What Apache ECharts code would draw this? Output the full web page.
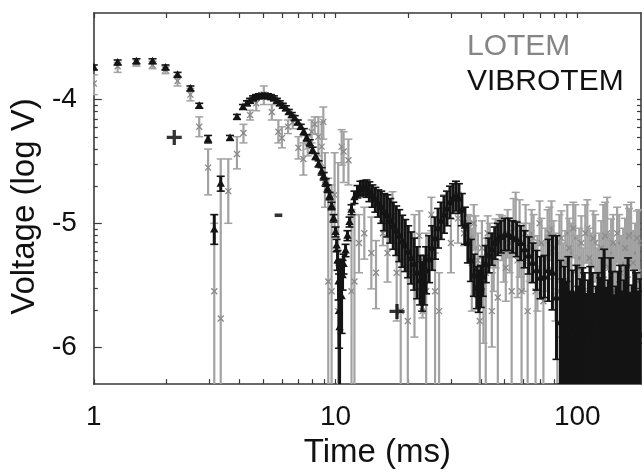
<!DOCTYPE html>
<html>
<head>
<meta charset="utf-8">
<script src="https://cdn.jsdelivr.net/npm/echarts@6/dist/echarts.min.js"></script>
<style>
html,body{margin:0;padding:0;background:#fff;}
#chart{width:644px;height:474px;}
</style>
</head>
<body>
<div id="chart"></div>
<script>
// ---- VIBROTEM (black): time (ms), log10 voltage, error half-width (log units)
const vibT = [1.0,1.255,1.50,1.75,1.98,2.22,2.51,2.73,2.97,3.15,3.35,3.66,3.91,4.14,
4.30,4.43,4.555,4.69,4.82,4.96,5.105,5.25,5.40,5.56,5.72,5.88,6.05,6.23,6.41,6.59,6.78,6.98,7.18,7.385,7.60,7.82,8.04,8.27,8.51,8.76,8.93,9.10,9.27,9.45,9.63,9.81,
10.0,10.1,10.19,10.29,10.34,10.39,10.59,10.69,10.79,11.0,11.2,11.42,11.64,11.97,12.32,12.67,13.04,13.42,13.80,14.2,14.61,15.03,15.46,15.91,16.37,16.84,17.33,17.82,18.34,18.87,19.42,19.97,
20.55,21.14,21.75,22.38,22.8,23.24,23.69,24.37,25.07,25.79,26.54,27.31,28.09,28.90,29.74,30.59,31.47,32.38,33.31,34.28,35.27,36.28,37.33,38.40,39.1,39.9,
40.65,41.82,43.02,44.27,45.54,46.86,48.21,50.07,52.0,54.0,56.1,58.3,60.5,62.9,65.3,67.8,70.4,73.1,76.0,78.9,82.0,
85.1,86.7,88.4,90.1,91.8,93.6,95.4,97.2,99.1,101.0,102.9,104.9,106.9,108.9,111.0,113.1,115.3,117.5,119.7,122.0,124.4,126.7,129.1,131.6,134.1,136.7,139.3,142.0,144.7,147.5,150.3,153.2,156.1,159.1,162.2,165.3,168.4,171.6,174.9,178.3,181.7];
const vibV = [-3.74,-3.70,-3.69,-3.69,-3.74,-3.80,-3.91,-4.05,-4.32,-5.05,-4.68,-4.31,-4.14,-4.06,
-4.03,-4.01,-3.99,-3.98,-3.973,-3.97,-3.97,-3.973,-3.98,-3.99,-4.01,-4.03,-4.05,-4.07,-4.10,-4.125,-4.15,-4.185,-4.22,-4.26,-4.31,-4.35,-4.41,-4.46,-4.52,-4.58,-4.62,-4.67,-4.72,-4.78,-4.86,-4.96,
-5.07,-5.18,-5.30,-5.47,-5.71,-5.84,-5.59,-5.42,-5.33,-5.22,-5.10,-4.99,-4.89,-4.79,-4.745,-4.72,-4.715,-4.72,-4.745,-4.78,-4.81,-4.84,-4.87,-4.91,-4.94,-4.98,-5.02,-5.06,-5.10,-5.145,-5.18,-5.23,
-5.28,-5.33,-5.40,-5.46,-5.51,-5.46,-5.38,-5.29,-5.20,-5.12,-5.04,-4.98,-4.93,-4.88,-4.83,-4.80,-4.78,-4.80,-4.89,-5.02,-5.16,-5.30,-5.42,-5.52,-5.55,-5.51,
-5.43,-5.33,-5.26,-5.21,-5.16,-5.13,-5.11,-5.09,-5.09,-5.11,-5.13,-5.16,-5.21,-5.26,-5.32,-5.38,-5.44,-5.43,-5.38,-5.40,-5.60,
-5.80,-5.90,-5.85,-5.92,-5.82,-5.95,-5.88,-5.96,-5.84,-5.93,-5.90,-5.86,-5.88,-5.97,-5.91,-5.85,-5.87,-5.97,-5.93,-5.88,-5.90,-5.80,-5.76,-5.94,-5.91,-5.80,-5.87,-5.98,-5.93,-5.87,-5.84,-5.95,-5.91,-5.84,-5.80,-5.96,-5.92,-5.86,-5.88,-5.95,-5.90];
const vibE = [0.02,0.02,0.02,0.02,0.02,0.02,0.02,0.02,0.03,0.12,0.06,0.02,0.02,0.02,
0.02,0.02,0.02,0.02,0.02,0.02,0.02,0.02,0.02,0.02,0.02,0.02,0.02,0.02,0.02,0.02,0.02,0.02,0.02,0.025,0.025,0.025,0.025,0.025,0.025,0.03,0.03,0.03,0.03,0.03,0.03,0.03,
0.04,0.05,0.08,0.15,0.3,0.5,0.3,0.12,0.08,0.05,0.04,0.04,0.04,0.05,0.05,0.06,0.06,0.07,0.08,0.09,0.10,0.11,0.13,0.15,0.17,0.18,0.19,0.2,0.21,0.21,0.21,0.21,
0.21,0.21,0.21,0.2,0.2,0.2,0.19,0.19,0.18,0.17,0.16,0.15,0.15,0.14,0.13,0.12,0.12,0.12,0.13,0.15,0.16,0.17,0.17,0.17,0.17,0.17,
0.16,0.15,0.14,0.13,0.13,0.13,0.13,0.13,0.13,0.13,0.14,0.14,0.15,0.15,0.16,0.16,0.17,0.17,0.25,0.3,0.5,
0.5,0.45,0.5,0.45,0.55,0.4,0.5,0.4,0.5,0.42,0.45,0.5,0.48,0.4,0.45,0.5,0.47,0.4,0.42,0.48,0.46,0.52,0.55,0.42,0.45,0.52,0.48,0.4,0.42,0.48,0.5,0.4,0.45,0.5,0.52,0.4,0.42,0.48,0.48,0.4,0.45];

// ---- LOTEM (gray): time (ms), log10 voltage, top and bottom of error bar (log units; -7 = below the axis)
const lotT = [1.0,1.255,1.50,1.75,1.98,2.22,2.51,2.73,2.97,3.15,3.35,3.60,3.91,4.16,4.43,4.7,5.05,5.45,5.8,6.0,6.36,6.65,7.02,7.36,7.67,7.96,8.2,8.49,8.76,8.9,9.04,9.33,9.63,9.91,10.25,10.6,10.8,11.3,11.64,11.97,12.5,13.15,14.06,14.7,15.7,16.4,17.2,17.9,18.6,19.9,21.2,22.2,22.9,23.7,24.9,25.8,26.8,28.1,30.0,32.1,34.0,35.3,36.6,37.9,39.5,40.9,42.6,44.3,45.9,47.7,49.6,51.5,53.5,55.6,57.7,60.0,62.3,64.7,67.2,69.8,72.4,75.3,78.2,81.2,84.3,87.5,90.9,94.5,98.1,101.9,105.9,110,114.2,118.6,123.2,128,132.9,138,143.4,149,154.7,160.7,166.9,173.3,180.0,
36.0,37.3,38.8,40.3,41.8,43.4,45.1,46.9,48.8,50.6,52.5,54.5,56.6,58.8,61.1,63.5,65.9,68.4,71.1,73.8,76.7,79.7,82.7,85.9,89.2,92.6,96.2,100.0,103.9,107.9,112.1,116.4,120.9,125.6,130.4,135.4,140.6,146.1,151.7,157.6,163.7,170.0,176.6];
const lotV = [-3.87,-3.73,-3.70,-3.72,-3.76,-3.85,-3.96,-4.22,-4.55,-5.55,-5.77,-4.74,-4.44,-4.27,-4.125,-4.03,-3.96,-4.10,-4.26,-4.31,-4.22,-4.18,-4.39,-4.48,-4.38,-4.26,-4.20,-4.30,-4.38,-4.18,-4.65,-5.47,-5.55,-4.77,-5.71,-4.38,-4.42,-4.49,-5.55,-5.47,-5.16,-5.08,-5.24,-5.40,-5.08,-5.24,-4.94,-5.40,-5.71,-5.79,-5.40,-5.10,-5.71,-5.55,-4.93,-5.55,-5.71,-4.89,-5.16,-4.96,-5.08,-5.04,-5.32,-5.20,-5.79,-5.55,-5.08,-5.71,-5.16,-5.04,-5.24,-5.08,-5.55,-5.00,-5.12,-5.24,-5.71,-5.08,-5.55,-5.00,-5.63,-5.12,-5.04,-5.40,-5.16,-5.55,-5.08,-5.24,-5.12,-5.28,-5.55,-5.04,-5.32,-5.16,-5.40,-5.12,-5.08,-5.24,-5.55,-5.16,-5.32,-5.12,-5.08,-5.24,-5.16,
-5.12,-5.00,-5.30,-5.20,-5.40,-5.16,-5.28,-5.60,-5.10,-5.36,-5.16,-5.04,-5.30,-5.55,-5.08,-5.20,-5.12,-5.36,-5.16,-5.28,-5.08,-5.20,-5.55,-5.12,-5.32,-5.20,-5.04,-5.36,-5.16,-5.08,-5.28,-5.12,-5.55,-5.20,-5.10,-5.36,-5.16,-5.08,-5.40,-5.20,-5.10,-5.32,-5.12];
const lotHi = [-3.80,-3.70,-3.67,-3.69,-3.73,-3.81,-3.91,-4.14,-4.40,-5.00,-4.48,-4.48,-4.30,-4.20,-4.086,-3.97,-3.89,-4.04,-4.165,-4.22,-4.165,-4.125,-4.30,-4.35,-4.30,-4.165,-4.14,-4.14,-4.18,-4.06,-4.43,-4.635,-4.69,-4.43,-4.51,-4.243,-4.26,-4.32,-4.89,-4.93,-4.93,-4.87,-4.95,-5.14,-4.98,-5.00,-4.745,-5.16,-5.29,-5.34,-4.93,-4.90,-5.655,-5.08,-4.79,-5.24,-5.40,-4.77,-4.965,-4.75,-4.98,-4.93,-5.04,-4.94,-5.55,-5.26,-4.94,-5.40,-4.965,-4.93,-5.08,-4.89,-5.20,-4.75,-4.81,-5.00,-5.32,-4.89,-5.16,-4.82,-5.16,-4.89,-4.82,-5.08,-4.93,-5.16,-4.85,-5.00,-4.85,-5.04,-5.20,-4.81,-5.08,-4.93,-5.08,-4.85,-4.79,-4.965,-5.16,-4.93,-5.04,-4.85,-4.83,-5.00,-4.89,
-4.94,-4.85,-5.08,-4.98,-5.12,-5.00,-5.08,-5.30,-4.94,-5.12,-4.96,-4.80,-5.06,-5.24,-4.85,-5.00,-4.93,-5.10,-4.96,-5.04,-4.87,-4.98,-5.24,-4.90,-5.06,-4.96,-4.83,-5.10,-4.94,-4.85,-5.04,-4.90,-5.20,-4.98,-4.83,-5.08,-4.93,-4.87,-5.10,-4.96,-4.88,-5.06,-4.90];
const lotLo = [-3.96,-3.78,-3.73,-3.75,-3.79,-3.89,-4.01,-4.30,-4.77,-7,-7,-5.00,-4.56,-4.35,-4.165,-4.09,-4.04,-4.165,-4.35,-4.39,-4.275,-4.235,-4.48,-4.61,-4.455,-4.35,-4.275,-4.455,-4.53,-4.32,-4.87,-7,-7,-5.08,-7,-4.53,-4.67,-4.69,-7,-7,-5.40,-5.29,-5.53,-5.69,-5.18,-5.475,-5.14,-5.79,-7,-7,-5.92,-5.29,-5.765,-7,-5.06,-7,-7,-5.00,-5.40,-5.16,-5.18,-5.16,-5.71,-5.55,-7,-5.97,-5.255,-6.00,-5.36,-5.16,-5.475,-5.28,-7,-5.255,-5.435,-5.55,-7,-5.28,-7,-5.18,-7,-5.36,-5.255,-5.79,-5.475,-7,-5.32,-5.55,-5.40,-5.55,-7,-5.32,-5.63,-5.475,-5.87,-5.435,-5.36,-5.55,-7,-5.475,-5.63,-5.435,-5.36,-5.55,-5.475,
-5.32,-5.20,-5.60,-5.47,-7,-5.36,-5.55,-7,-5.30,-5.63,-5.40,-5.24,-5.60,-7,-5.30,-5.47,-5.32,-5.71,-5.40,-5.55,-5.30,-5.45,-7,-5.36,-5.60,-5.47,-5.28,-5.70,-5.40,-5.32,-5.55,-5.36,-7,-5.45,-5.36,-5.65,-5.40,-5.32,-7,-5.45,-5.36,-5.60,-5.38];

// ---- sign annotations
const signT = [2.15, 5.81, 17.95];
const signV = [-4.32, -4.93, -5.72];
const signTxt = ['+', '-', '+'];

// ---- axes
const xLabelVals = [1, 10, 100];
const xTickVals = [1,2,3,4,5,6,7,8,9,10,20,30,40,50,60,70,80,90,100];
const yLabelVals = [-6, -5, -4];
const yMinorVals = [-4.046,-4.097,-4.155,-4.222,-4.301,-4.398,-4.523,-4.699,
  -5.046,-5.097,-5.155,-5.222,-5.301,-5.398,-5.523,-5.699];
const X_MIN = 1, X_MAX = 183.4, Y_MIN = -6.3, Y_MAX = -3.3;

const FONT = 'Liberation Sans, Arial, Helvetica, sans-serif';
const AX = '#3a3a3a';
const GRAY = '#a2a2a2';
const BLACK = '#141414';

const vibData = vibT.map((t, i) => [t, vibV[i], vibE[i]]);
const lotData = lotT.map((t, i) => [t, lotV[i], lotHi[i], lotLo[i]]);
const signData = signT.map((t, i) => ({ value: [t, signV[i]], label: { formatter: signTxt[i] } }));

function clampY(v) { return Math.max(Y_MIN - 0.05, Math.min(Y_MAX, v)); }

function vibRender(params, api) {
  const t = api.value(0), v = api.value(1), e = api.value(2);
  const c = api.coord([t, v]);
  const top = api.coord([t, clampY(v + e)]);
  const bot = api.coord([t, clampY(v - e)]);
  const w = 4, st = { stroke: BLACK, lineWidth: 3 };
  return {
    type: 'group',
    children: [
      { type: 'line', shape: { x1: c[0], y1: top[1], x2: c[0], y2: bot[1] }, style: st },
      { type: 'line', shape: { x1: c[0] - w, y1: top[1], x2: c[0] + w, y2: top[1] }, style: { stroke: BLACK, lineWidth: 1.6 } },
      { type: 'line', shape: { x1: c[0] - w, y1: bot[1], x2: c[0] + w, y2: bot[1] }, style: { stroke: BLACK, lineWidth: 1.6 } },
      { type: 'polygon', shape: { points: [[c[0], c[1] - 4.5], [c[0] - 4.2, c[1] + 3], [c[0] + 4.2, c[1] + 3]] }, style: { fill: BLACK } }
    ]
  };
}

function lotRender(params, api) {
  const t = api.value(0), v = api.value(1), hi = api.value(2), lo = api.value(3);
  const c = api.coord([t, v]);
  const top = api.coord([t, clampY(hi)]);
  const bot = api.coord([t, clampY(lo)]);
  const w = 4, m = 3, st = { stroke: GRAY, lineWidth: 2.2 };
  return {
    type: 'group',
    children: [
      { type: 'line', shape: { x1: c[0], y1: top[1], x2: c[0], y2: bot[1] }, style: st },
      { type: 'line', shape: { x1: c[0] - w, y1: top[1], x2: c[0] + w, y2: top[1] }, style: { stroke: GRAY, lineWidth: 1.5 } },
      { type: 'line', shape: { x1: c[0] - w, y1: bot[1], x2: c[0] + w, y2: bot[1] }, style: { stroke: GRAY, lineWidth: 1.5 } },
      { type: 'line', shape: { x1: c[0] - m, y1: c[1] - m, x2: c[0] + m, y2: c[1] + m }, style: { stroke: '#8a8a8a', lineWidth: 1.3 } },
      { type: 'line', shape: { x1: c[0] - m, y1: c[1] + m, x2: c[0] + m, y2: c[1] - m }, style: { stroke: '#8a8a8a', lineWidth: 1.3 } }
    ]
  };
}

const lineStyle = { color: AX, width: 1.6 };
const chart = echarts.init(document.getElementById('chart'), null, { renderer: 'canvas' });
chart.setOption({
  animation: false,
  backgroundColor: '#ffffff',
  textStyle: { fontFamily: FONT },
  grid: { left: 91, right: 3, top: 13, bottom: 79, containLabel: false },
  legend: {
    left: 457, top: 24, orient: 'vertical', itemGap: 0, itemWidth: 0, itemHeight: 0,
    selectedMode: false,
    data: [
      { name: 'LOTEM', icon: 'none', textStyle: { color: '#858585' } },
      { name: 'VIBROTEM', icon: 'none', textStyle: { color: '#111111' } }
    ],
    textStyle: { fontSize: 30, fontFamily: FONT, lineHeight: 35 }
  },
  xAxis: [
    {
      type: 'log', logBase: 10, min: X_MIN, max: X_MAX, position: 'bottom',
      axisLine: { show: true, onZero: false, lineStyle },
      axisTick: { show: true, inside: true, length: 5, customValues: xTickVals, lineStyle: { color: AX, width: 1.2 } },
      axisLabel: { customValues: xLabelVals, fontSize: 28, margin: 19, color: '#111', fontFamily: FONT, formatter: v => String(Math.round(v)) },
      splitLine: { show: false },
      name: 'Time (ms)', nameLocation: 'middle', nameGap: 46,
      nameTextStyle: { fontSize: 33, color: '#111', fontFamily: FONT, padding: [0, 0, 0, 20] }
    },
    {
      type: 'log', logBase: 10, min: X_MIN, max: X_MAX, position: 'top',
      axisLine: { show: true, onZero: false, lineStyle },
      axisTick: { show: true, inside: true, length: 5, customValues: xTickVals, lineStyle: { color: AX, width: 1.2 } },
      axisLabel: { show: false }, splitLine: { show: false }
    }
  ],
  yAxis: [
    {
      type: 'value', min: Y_MIN, max: Y_MAX, position: 'left',
      axisLine: { show: true, onZero: false, lineStyle },
      axisTick: { show: true, inside: true, length: 8, customValues: yLabelVals, lineStyle: { color: AX, width: 1.2 } },
      axisLabel: { customValues: yLabelVals, fontSize: 28, margin: 17, color: '#111', fontFamily: FONT },
      splitLine: { show: false },
      name: 'Voltage (log V)', nameLocation: 'middle', nameGap: 50, nameRotate: 90,
      nameTextStyle: { fontSize: 33, color: '#111', fontFamily: FONT, padding: [0, 16, 0, 0] }
    },
    {
      type: 'value', min: Y_MIN, max: Y_MAX, position: 'left',
      axisLine: { show: false },
      axisTick: { show: true, inside: true, length: 4, customValues: yMinorVals, lineStyle: { color: AX, width: 1.2 } },
      axisLabel: { show: false }, splitLine: { show: false }
    },
    {
      type: 'value', min: Y_MIN, max: Y_MAX, position: 'right',
      axisLine: { show: true, onZero: false, lineStyle },
      axisTick: { show: true, inside: true, length: 4, customValues: yLabelVals.concat(yMinorVals), lineStyle: { color: AX, width: 1.2 } },
      axisLabel: { show: false }, splitLine: { show: false }
    }
  ],
  series: [
    {
      name: 'LOTEM', type: 'custom', renderItem: lotRender, data: lotData,
      xAxisIndex: 0, yAxisIndex: 0, encode: { x: 0, y: 1 }, clip: true, z: 2,
      itemStyle: { color: GRAY }
    },
    {
      name: 'VIBROTEM', type: 'custom', renderItem: vibRender, data: vibData,
      xAxisIndex: 0, yAxisIndex: 0, encode: { x: 0, y: 1 }, clip: true, z: 3,
      itemStyle: { color: BLACK }
    },
    {
      name: 'sign', type: 'scatter', data: signData, symbolSize: 1,
      itemStyle: { color: 'rgba(0,0,0,0)' }, z: 4, silent: true,
      label: { show: true, position: 'inside', fontSize: 30, fontWeight: 'bold', color: '#000', fontFamily: FONT }
    }
  ]
});
</script>
</body>
</html>
